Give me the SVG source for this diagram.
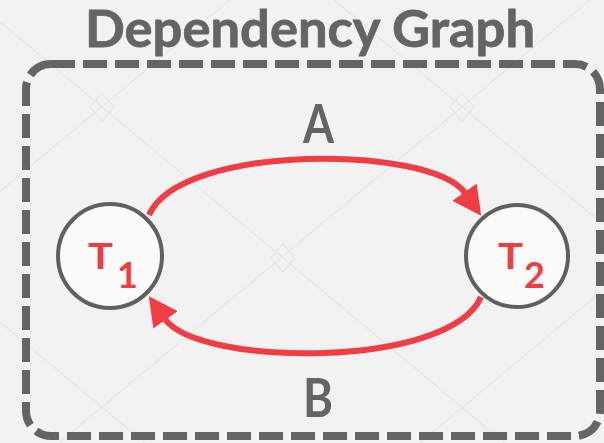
<svg xmlns="http://www.w3.org/2000/svg" width="604" height="443" viewBox="0 0 604 443">
  <style>
    .bg-line { stroke: #e8e8e8; stroke-width: 1.5; fill: none; }
    .frame { fill: none; stroke: #646464; stroke-width: 8; stroke-dasharray: 24 8; }
    .title { font-family: Lato, "Open Sans", sans-serif; font-weight: 700; fill: #646464; stroke: #646464; stroke-width: 0.8; }
    .edge-label { font-family: Lato, "Open Sans", sans-serif; font-weight: 700; fill: #646464; font-size: 54px; }
    .node circle { fill: #fafaf9; stroke: #606060; stroke-width: 4; }
    .node text { font-family: Lato, "Open Sans", sans-serif; font-weight: 700; fill: #ef3d45; font-size: 36px; }
    .edge { fill: none; stroke: #ef3d45; stroke-width: 6; }
  </style>
  <defs>
    <marker id="arrow" markerUnits="userSpaceOnUse" viewBox="0 -15 30 30" refX="1" refY="0" markerWidth="30" markerHeight="30" orient="auto">
      <path d="M0,-15 L29,0 L0,15 Z" fill="#ef3d45"/>
    </marker>
  </defs>

  <!-- page background with faint lattice -->
  <rect x="0" y="0" width="604" height="443" fill="#f2f2f2"/>
  <g id="lattice">
    <path class="bg-line" d="M-26,0 L604,526 M334,0 L604,225 M-258,107 L400,656"/>
    <path class="bg-line" d="M230,0 L-300,442 M590,0 L60,442 M822,107 L220,610"/>
    <path class="bg-line" d="M102,93 L114,107 L102,121 L90,107 Z M462,93 L474,107 L462,121 L450,107 Z M283,244 L295,258 L283,272 L271,258 Z"/>
  </g>

  <text class="title" x="85" y="47" font-size="52" textLength="450" lengthAdjust="spacingAndGlyphs">Dependency Graph</text>

  <rect id="frame" class="frame" x="26" y="64" width="574" height="372" rx="25" ry="25"/>

  <g id="connectors">
    <path id="edge-a" class="edge" d="M149,215 C180.5,143 431,145 465,193" marker-end="url(#arrow)"/>
    <path id="edge-b" class="edge" d="M481,297 C449.5,369 199,367 165,319" marker-end="url(#arrow)"/>
    <text class="edge-label" x="303" y="143" textLength="31" lengthAdjust="spacingAndGlyphs">A</text>
    <text class="edge-label" x="303" y="417" textLength="30" lengthAdjust="spacingAndGlyphs">B</text>
  </g>

  <g id="node-t1" class="node">
    <circle cx="110" cy="256" r="52"/>
    <text x="88" y="269" textLength="25" lengthAdjust="spacingAndGlyphs">T</text>
    <text x="117" y="288" font-size="29">1</text>
  </g>

  <g id="node-t2" class="node">
    <circle cx="517" cy="256" r="51"/>
    <text x="498" y="269" textLength="25" lengthAdjust="spacingAndGlyphs">T</text>
    <text x="524" y="288" font-size="29">2</text>
  </g>
</svg>
